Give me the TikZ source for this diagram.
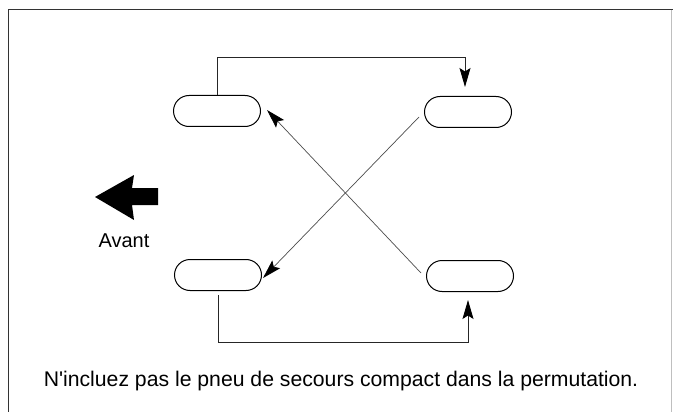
\documentclass[tikz,border=0pt]{standalone}
\usepackage{fontspec}
\setmainfont{Liberation Sans}[Ligatures=TeXOff]
\usetikzlibrary{arrows.meta}
\begin{document}
\begin{tikzpicture}[x=1pt,y=-1pt,
  >={Stealth[length=19pt,width=11pt,inset=3.5pt,color=black]},
  tire/.style={draw,line width=1pt,minimum width=87pt,minimum height=31pt,rounded corners=15.5pt,inner sep=0pt},
  conn/.style={draw=black!85,line width=0.9pt,->},
  diag/.style={draw=black!70,line width=0.7pt,->},
  frame/.style={draw=black!80,line width=1.8pt},
  lbl/.style={font=\fontsize{20}{24}\selectfont,inner sep=0pt}]
\useasboundingbox (0,0) rectangle (673,412);
% frame
\draw[frame] (8.5,412) -- (8.5,9.5) -- (673,9.5);
\draw[draw=black!25,line width=0.8pt] (671,10) -- (671,412);
% tires
\node[tire] (tl) at (217,111) {};
\node[tire] (tr) at (468,112) {};
\node[tire] (bl) at (218,275) {};
\node[tire] (br) at (470,276) {};
% connectors
\draw[conn] (tl.north) -- (tl.north |- 0,57) -| ([xshift=-3pt,yshift=9pt]tr.north);
\draw[conn] ([yshift=-4pt]bl.south) -- (bl.south |- 0,342) -| ([xshift=-2pt,yshift=-8pt]br.south);
\draw[diag] ([xshift=-5pt,yshift=-5pt]tr.west) -- ([xshift=1pt,yshift=-3pt]bl.east);
\draw[diag] ([xshift=-5pt,yshift=3pt]br.west) -- ([xshift=6pt,yshift=1pt]tl.east);
% front arrow
\fill (95,197) -- (134,175) -- (132,188) -- (158,188) -- (158,205) -- (132,205) -- (134,220) -- cycle;
\node[lbl] (avant) at (124,241) {Avant};
% note
\node[lbl,font=\fontsize{21.2}{25}\selectfont] (note) at (341,381) {N'incluez pas le pneu de secours compact dans la permutation.};
\end{tikzpicture}
\end{document}
